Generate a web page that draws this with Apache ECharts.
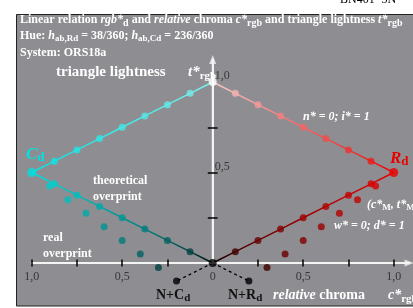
<!DOCTYPE html>
<html>
<head>
<meta charset="utf-8">
<script src="https://cdn.jsdelivr.net/npm/echarts@6/dist/echarts.min.js"></script>
<style>
html, body { margin: 0; padding: 0; background: #fff; }
#chart { width: 413px; height: 308px; }
</style>
</head>
<body>
<div id="chart"></div>
<script>
// values (relative chroma c*, triangle lightness t*)
var chromaSteps = [0, 0.125, 0.25, 0.375, 0.5, 0.625, 0.75, 0.875, 1];
var lightTop = [1, 0.9375, 0.875, 0.8125, 0.75, 0.6875, 0.625, 0.5625, 0.5];
var lightBottom = [0, 0.0625, 0.125, 0.1875, 0.25, 0.3125, 0.375, 0.4375, 0.5];
var realChroma = [0.2, 0.3, 0.4, 0.5, 0.6, 0.7, 0.8, 0.9];
var realLight = [-0.1, -0.025, 0.05, 0.125, 0.2, 0.275, 0.35, 0.425];
var xTickVals = [-1, -0.75, -0.5, -0.25, 0.25, 0.5, 0.75, 1];
var xLabelVals = [-1, -0.5, 0, 0.5, 1];
var xLabelText = ['1,0', '0,5', '0', '0,5', '1,0'];
var yTickVals = [0.25, 0.5, 0.75];
var yLabelVals = [0.5, 1];
var yLabelText = ['0,5', '1,0'];
var xAxisEnds = [-1, 1.085];
var yAxisEnds = [0, 1.125];

// page geometry
var W = 413, H = 308;
var ORIGIN_X = 212.7, ORIGIN_Y = 263, UNIT = 181;
var TICK = 3.5 / UNIT;

var CYAN = [0, 225, 225], RED = [235, 0, 0], WHITE = [255, 255, 255];
var AXIS = '#f4f4f4';
var FONT = '"Liberation Serif", "Times New Roman", serif';

function rgb(a) {
	return 'rgb(' + a.map(function(v) { return Math.round(v); }).join(',') + ')';
}
function mix(a, b, w) {
	return [0, 1, 2].map(function(i) { return a[i] * (1 - w) + b[i] * w; });
}
function topCol(base, wk) {
	return function(c) { return rgb(mix(base, WHITE, wk * (1 - c))); };
}
function lowCol(base) {
	return function(c) { return rgb(base.map(function(v) { return v * Math.pow(Math.max(c, 0), 0.6); })); };
}
var topCyan = topCol(CYAN, 0.5), topRed = topCol(RED, 0.8);
var lowCyan = lowCol(CYAN), lowRed = lowCol(RED);

// gradient along x for a line drawn from c=0 to c=1 (left side mirrored)
function grad(fn, left) {
	return new echarts.graphic.LinearGradient(0, 0, 1, 0, chromaSteps.map(function(c) {
		return { offset: left ? 1 - c : c, color: fn(c) };
	}));
}

function pairs(sign, cs, ts) {
	return cs.map(function(c, i) { return [sign * c, ts[i]]; });
}

function line(data, color, width, dashed, z) {
	return {
		type: 'line', data: data, symbol: 'none', silent: true, z: z || 3,
		lineStyle: { color: color, width: width, type: dashed ? [3, 3] : 'solid' }
	};
}
function dots(data, colorFn, size, z) {
	return {
		type: 'scatter', data: data, symbolSize: size, silent: true, z: z || 5,
		itemStyle: { color: function(p) { return colorFn(Math.abs(p.value[0]), p.value); } }
	};
}

// text runs with sub/superscripts, laid out by measuring
var ctx = document.createElement('canvas').getContext('2d');
function fontOf(p) {
	return (p.i ? 'italic ' : '') + (p.n ? '' : 'bold ') + p.s + 'px ' + FONT;
}
function runs(x, y, parts, color) {
	var out = [];
	parts.forEach(function(p) {
		var f = fontOf(p);
		ctx.font = f;
		out.push({
			type: 'text', x: x, y: y + (p.dy || 0), z: 50, silent: true,
			style: { text: p.t, font: f, fill: p.c || color, textAlign: 'left', textVerticalAlign: 'middle', align: 'left', verticalAlign: 'middle' }
		});
		x += ctx.measureText(p.t).width;
	});
	return out;
}
function sub(t, s, dy) { return { t: t, s: s || 10, dy: dy || 3 }; }

var texts = [].concat(
	runs(340, 0, [{ t: 'BN401\u22123N', s: 12, n: true }], '#000'),
	runs(20, 20, [{ t: 'Linear relation ', s: 12 }, { t: 'rgb*', s: 12, i: true }, sub('d'),
		{ t: ' and ', s: 12 }, { t: 'relative', s: 12, i: true }, { t: ' chroma ', s: 12 },
		{ t: 'c*', s: 12, i: true }, sub('rgb'), { t: ' and triangle lightness ', s: 12 },
		{ t: 't*', s: 12, i: true }, sub('rgb')], '#fff'),
	runs(20, 36, [{ t: 'Hue: ', s: 12 }, { t: 'h', s: 12, i: true }, sub('ab,Rd', 9), { t: ' = 38/360; ', s: 12 },
		{ t: 'h', s: 12, i: true }, sub('ab,Cd', 9), { t: ' = 236/360', s: 12 }], '#fff'),
	runs(20, 53, [{ t: 'System: ORS18a', s: 12 }], '#fff'),
	runs(56, 72, [{ t: 'triangle lightness', s: 15 }], '#fff'),
	runs(188, 72, [{ t: 't*', s: 15, i: true }, sub('rgb', 11, 4)], '#fff'),
	runs(303, 117, [{ t: 'n* = 0; i* = 1', s: 12, i: true }], '#fff'),
	runs(390, 159, [{ t: 'R', s: 17, i: true }, sub('d', 13, 3)], rgb(RED)),
	runs(26, 155, [{ t: 'C', s: 17, i: true }, sub('d', 13, 3)], rgb(CYAN)),
	runs(93, 181, [{ t: 'theoretical', s: 12 }], '#fff'),
	runs(93, 197, [{ t: 'overprint', s: 12 }], '#fff'),
	runs(367, 205, [{ t: '(c*', s: 12, i: true }, sub('M', 9), { t: ', t*', s: 12, i: true }, sub('M', 9), { t: ')', s: 12 }], '#fff'),
	runs(334, 226, [{ t: 'w* = 0; d* = 1', s: 12, i: true }], '#fff'),
	runs(43, 238, [{ t: 'real', s: 12 }], '#fff'),
	runs(43, 254, [{ t: 'overprint', s: 12 }], '#fff'),
	runs(156, 295, [{ t: 'N+C', s: 14 }, sub('d', 11, 3)], '#111'),
	runs(228, 295, [{ t: 'N+R', s: 14 }, sub('d', 11, 3)], '#111'),
	runs(273, 295, [{ t: 'relative', s: 14, i: true }, { t: ' chroma', s: 14 }], '#fff'),
	runs(388, 295, [{ t: 'c*', s: 14, i: true }, sub('rgb', 11, 4)], '#fff')
);

var chart = echarts.init(document.getElementById('chart'), null, { renderer: 'canvas' });

// second grid spans exactly the drawn axes, so its own axis lines are the visible axes
var axisGrid = {
	left: ORIGIN_X + xAxisEnds[0] * UNIT,
	top: ORIGIN_Y - yAxisEnds[1] * UNIT,
	width: (xAxisEnds[1] - xAxisEnds[0]) * UNIT,
	height: (yAxisEnds[1] - yAxisEnds[0]) * UNIT
};
function visibleAxis(idx, range) {
	return {
		type: 'value', gridIndex: 1, min: range[0], max: range[1], z: 4,
		axisLine: { show: true, onZero: true, lineStyle: { color: AXIS, width: 2 } },
		axisTick: { show: false }, axisLabel: { show: false }, splitLine: { show: false }
	};
}

var option = {
	animation: false,
	backgroundColor: '#fff',
	grid: [
		{ left: 0, top: 0, width: W, height: H },
		axisGrid
	],
	xAxis: [
		{ type: 'value', min: -ORIGIN_X / UNIT, max: (W - ORIGIN_X) / UNIT, show: false },
		visibleAxis(1, xAxisEnds)
	],
	yAxis: [
		{ type: 'value', min: -(H - ORIGIN_Y) / UNIT, max: ORIGIN_Y / UNIT, show: false },
		visibleAxis(1, yAxisEnds)
	],
	series: [
		// theoretical lines
		line(pairs(-1, chromaSteps, lightTop), grad(topCyan, true), 1.5),
		line(pairs(1, chromaSteps, lightTop), grad(topRed, false), 1.5),
		line(pairs(-1, chromaSteps, lightBottom), grad(lowCyan, true), 1.5),
		line(pairs(1, chromaSteps, lightBottom), grad(lowRed, false), 1.5),
		// dashed lines to the real black
		line([[0, 0], [-realChroma[0], realLight[0]]], '#000', 1.3, true),
		line([[0, 0], [realChroma[0], realLight[0]]], '#000', 1.3, true),
		// axis bodies as long thin rect symbols centred on each axis
		{
			type: 'scatter', silent: true, z: 4, symbol: 'rect',
			itemStyle: { color: AXIS },
			data: [
				{ value: [(xAxisEnds[0] + xAxisEnds[1]) / 2, 0], symbolSize: [(xAxisEnds[1] - xAxisEnds[0]) * UNIT, 2] },
				{ value: [0, (yAxisEnds[0] + yAxisEnds[1]) / 2], symbolSize: [2, (yAxisEnds[1] - yAxisEnds[0]) * UNIT] }
			]
		},
		// arrow heads of the two axes
		{
			type: 'scatter', silent: true, z: 4, symbol: 'triangle', symbolSize: [7, 9],
			itemStyle: { color: AXIS },
			data: [{ value: [xAxisEnds[1], 0], symbolRotate: -90 }, { value: [0, yAxisEnds[1]] }]
		},
		// ticks
		{
			type: 'lines', coordinateSystem: 'cartesian2d', silent: true, z: 4.5,
			lineStyle: { color: '#000', width: 1.5, opacity: 1 },
			data: xTickVals.map(function(v) { return { coords: [[v, -TICK], [v, TICK]] }; })
				.concat(yTickVals.map(function(v) { return { coords: [[-1.4 * TICK, v], [1.4 * TICK, v]] }; }))
		},
		// tick labels
		{
			type: 'scatter', silent: true, symbolSize: 0, z: 6,
			data: xLabelVals.map(function(v, i) { return { value: [v, 0], name: xLabelText[i] }; }),
			label: { show: true, position: 'bottom', distance: 8, formatter: '{b}', color: '#222', fontSize: 12, fontFamily: FONT }
		},
		{
			type: 'scatter', silent: true, symbolSize: 0, z: 6,
			data: yLabelVals.map(function(v, i) { return { value: [0, v], name: yLabelText[i] }; }),
			label: { show: true, position: 'right', distance: 2, offset: [0, -6], formatter: '{b}', color: '#222', fontSize: 12, fontFamily: FONT }
		},
		// theoretical points
		dots(pairs(-1, chromaSteps.slice(1, 8), lightTop.slice(1, 8)), topCyan, 7),
		dots(pairs(1, chromaSteps.slice(1, 8), lightTop.slice(1, 8)), topRed, 7),
		dots(pairs(-1, chromaSteps.slice(1, 8), lightBottom.slice(1, 8)), lowCyan, 7),
		dots(pairs(1, chromaSteps.slice(1, 8), lightBottom.slice(1, 8)), lowRed, 7),
		// real overprint points
		dots(pairs(-1, realChroma, realLight), function(c) { return lowCyan((c - 0.2) / 0.8); }, 7, 5.5),
		dots(pairs(1, realChroma, realLight), function(c) { return lowRed((c - 0.2) / 0.8); }, 7, 5.5),
		// end points: white, black, Cd, Rd
		dots([[0, lightTop[0]]], function() { return '#fff'; }, 8, 6),
		dots([[0, lightBottom[0]]], function() { return '#000'; }, 8, 6),
		dots([[-1, 0.5]], function() { return rgb(CYAN); }, 9, 6),
		dots([[1, 0.5]], function() { return rgb(RED); }, 9, 6)
	]
};

chart.setOption(option);

// background panel and texts
chart.setOption({
	graphic: [{
		type: 'rect', z: -10, silent: true,
		shape: { x: 16.5, y: 14.5, width: 410, height: 291.5 },
		style: { fill: '#8e8e92', stroke: '#222', lineWidth: 1 }
	}].concat(texts)
});
</script>
</body>
</html>
